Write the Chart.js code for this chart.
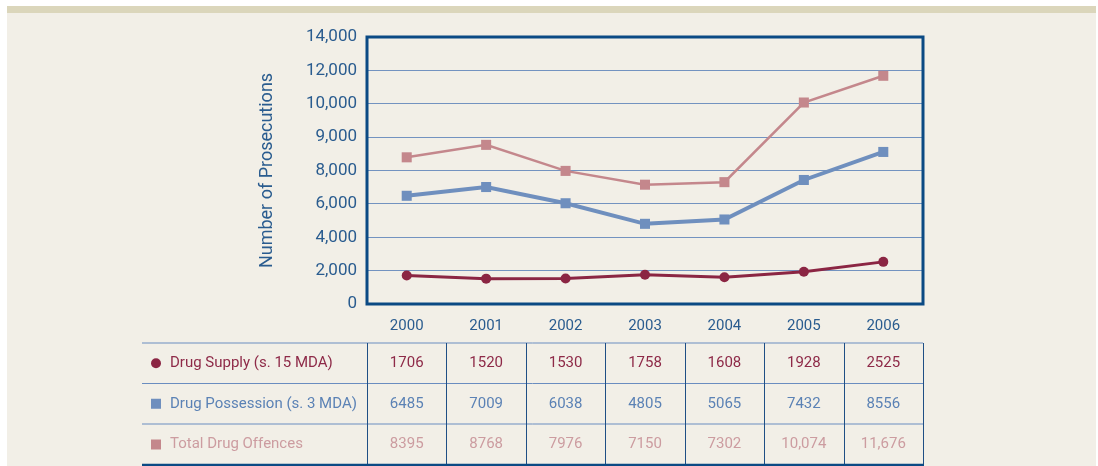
<!DOCTYPE html>
<html>
<head>
<meta charset="utf-8">
<script src="https://cdn.jsdelivr.net/npm/chart.js@4.4.0/dist/chart.umd.min.js"></script>
<style>
  html, body { margin: 0; padding: 0; background: #ffffff; }
  canvas { display: block; }
</style>
</head>
<body>
<canvas id="chart" width="1098" height="466"></canvas>
<script>
const years = ["2000", "2001", "2002", "2003", "2004", "2005", "2006"];

const drugSupply = [1706, 1520, 1530, 1758, 1608, 1928, 2525];
const drugPossession = [6485, 7009, 6038, 4805, 5065, 7432, 8556];
const totalOffences = [8395, 8768, 7976, 7150, 7302, 10074, 11676];

// the axis in the original is not evenly spaced: these are its gridline values
const yTickValues = [0, 2000, 4000, 6000, 8000, 9000, 10000, 12000, 14000];
const yTickLabels = ["0", "2,000", "4,000", "6,000", "8,000", "9,000", "10,000", "12,000", "14,000"];

const seriesNames = ["Drug Supply (s. 15 MDA)", "Drug Possession (s. 3 MDA)", "Total Drug Offences"];
const tableLabels = [
    ["1706", "1520", "1530", "1758", "1608", "1928", "2525"],
    ["6485", "7009", "6038", "4805", "5065", "7432", "8556"],
    ["8395", "8768", "7976", "7150", "7302", "10,074", "11,676"]
];

const FONT = "Roboto, 'Open Sans', sans-serif";
const AXIS_BLUE = "#2a5c8f";
const BOX_BLUE = "#0b4a84";
const GRID_BLUE = "#7393c0";

const lineColors = ["#8b2543", "#6f8fbe", "#c4878c"];
const textColors = ["#8e2a48", "#5b82b5", "#cc9ca0"];

// map a value onto the gridline index scale (piecewise, like the original)
function toAxis(v){
    for (let i = 1; i < yTickValues.length; i++){
        if (v <= yTickValues[i]){
            const lo = yTickValues[i-1], hi = yTickValues[i];
            return (i-1) + (v - lo) / (hi - lo);
        }
    }
    return yTickValues.length - 1;
}

const pagePlugin = {
    id: 'page',
    beforeDraw(chart){
        const ctx = chart.ctx;
        ctx.save();
        ctx.fillStyle = "#ffffff";
        ctx.fillRect(0, 0, chart.width, chart.height);
        ctx.fillStyle = "#f2efe7";
        ctx.fillRect(7, 6, 1089, 460);
        ctx.fillStyle = "#dbd6bb";
        ctx.fillRect(7, 6, 1089, 7);
        ctx.restore();
    },
    afterDraw(chart){
        const ctx = chart.ctx;
        const area = chart.chartArea;
        const xs = chart.scales.x;
        ctx.save();

        // plot frame
        ctx.strokeStyle = BOX_BLUE;
        ctx.lineWidth = 3;
        ctx.strokeRect(area.left, area.top, area.right - area.left, area.bottom - area.top);

        // data table
        const rowTops = [343, 383.5, 424, 465];
        const tableLeft = 142;
        const half = (area.right - area.left) / years.length / 2;

        ctx.lineWidth = 1;
        ctx.strokeStyle = "#6a8dc0";
        for (let r = 0; r < 3; r++){
            ctx.beginPath();
            ctx.moveTo(tableLeft, rowTops[r]);
            ctx.lineTo(area.right, rowTops[r]);
            ctx.stroke();
        }
        ctx.strokeStyle = "#1f4f85";
        for (let i = 0; i <= years.length; i++){
            const x = Math.round(xs.getPixelForValue(i) - half) + 0.5;
            ctx.beginPath();
            ctx.moveTo(x, rowTops[0]);
            ctx.lineTo(x, rowTops[3]);
            ctx.stroke();
        }
        ctx.strokeStyle = BOX_BLUE;
        ctx.lineWidth = 2.5;
        ctx.beginPath();
        ctx.moveTo(tableLeft, rowTops[3]);
        ctx.lineTo(area.right + 1, rowTops[3]);
        ctx.stroke();

        ctx.font = "15px " + FONT;
        ctx.textBaseline = "middle";
        for (let r = 0; r < 3; r++){
            const cy = (rowTops[r] + rowTops[r+1]) / 2;
            ctx.fillStyle = lineColors[r];
            if (r === 0){
                ctx.beginPath();
                ctx.arc(156, cy, 5, 0, Math.PI * 2);
                ctx.fill();
            } else {
                ctx.fillRect(151, cy - 5, 10, 10);
            }
            ctx.fillStyle = textColors[r];
            ctx.textAlign = "left";
            ctx.fillText(seriesNames[r], 170, cy);
            ctx.textAlign = "center";
            for (let i = 0; i < years.length; i++){
                ctx.fillText(tableLabels[r][i], xs.getPixelForValue(i), cy);
            }
        }
        ctx.restore();
    }
};

function makeDataset(label, values, idx, style, radius, width){
    return {
        label: label,
        data: values.map(toAxis),
        borderColor: lineColors[idx],
        backgroundColor: lineColors[idx],
        borderWidth: width,
        pointStyle: style,
        pointRadius: radius,
        pointBorderWidth: 0,
        tension: 0,
        fill: false
    };
}

new Chart(document.getElementById("chart").getContext("2d"), {
    type: 'line',
    data: {
        labels: years,
        datasets: [
            makeDataset(seriesNames[2], totalOffences, 2, 'rect', 7.1, 2.5),
            makeDataset(seriesNames[1], drugPossession, 1, 'rect', 7.1, 4),
            makeDataset(seriesNames[0], drugSupply, 0, 'circle', 5, 3)
        ]
    },
    options: {
        responsive: false,
        animation: false,
        events: [],
        layout: {
            padding: {left: 250, right: 175, top: 37, bottom: 122}
        },
        plugins: {
            legend: {display: false},
            tooltip: {enabled: false}
        },
        scales: {
            x: {
                offset: true,
                grid: {display: false},
                border: {display: false},
                ticks: {
                    color: AXIS_BLUE,
                    font: {family: FONT, size: 15},
                    padding: 5
                },
                afterFit(scale){ scale.height = 40; }
            },
            y: {
                min: 0,
                max: yTickValues.length - 1,
                grid: {color: GRID_BLUE, lineWidth: 1, drawTicks: false},
                border: {display: false},
                ticks: {
                    stepSize: 1,
                    color: AXIS_BLUE,
                    font: {family: FONT, size: 17},
                    padding: 10,
                    callback: (value) => yTickLabels[value]
                },
                title: {
                    display: true,
                    text: 'Number of Prosecutions',
                    color: AXIS_BLUE,
                    font: {family: FONT, size: 18},
                    padding: {top: 7, bottom: 0}
                },
                afterFit(scale){ scale.width = 117; }
            }
        }
    },
    plugins: [pagePlugin]
});
</script>
</body>
</html>
